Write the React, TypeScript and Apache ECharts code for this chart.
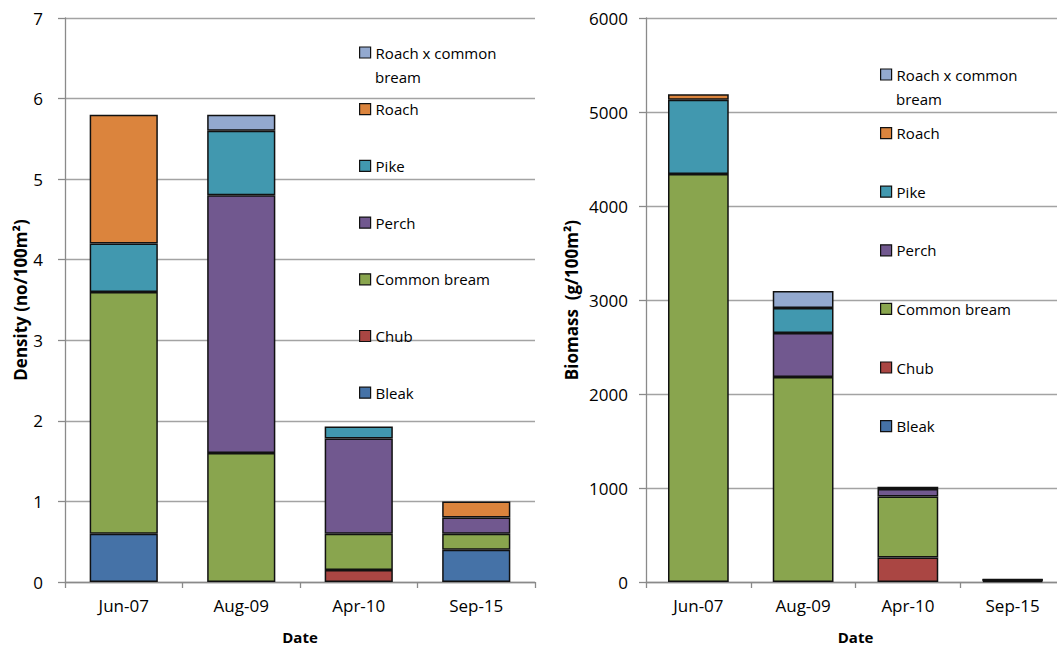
import { useEffect, useRef } from "react";
import * as echarts from "echarts";

// Sampling dates (category axis of both panels)
const dates = ["Jun-07", "Aug-09", "Apr-10", "Sep-15"];

// Species in stacking order (bottom to top)
const species = ["Bleak", "Chub", "Common bream", "Perch", "Pike", "Roach", "Roach x common bream"];
const speciesColors = ["#4572A7", "#AA4643", "#89A54E", "#71588F", "#4198AF", "#DB843D", "#93A9CF"];

// Density (no/100m²) by date; null = species not caught
const densityBleak = [0.6, null, null, 0.4];
const densityChub = [null, null, 0.15, null];
const densityCommonBream = [3.0, 1.6, 0.45, 0.2];
const densityPerch = [null, 3.2, 1.18, 0.2];
const densityPike = [0.6, 0.8, 0.15, null];
const densityRoach = [1.6, null, null, 0.2];
const densityHybrid = [null, 0.2, null, null];

// Biomass (g/100m²) by date
const biomassBleak = [null, null, null, 12];
const biomassChub = [null, null, 260, null];
const biomassCommonBream = [4340, 2180, 650, 8];
const biomassPerch = [null, 470, 80, 5];
const biomassPike = [790, 265, 22, null];
const biomassRoach = [60, null, null, 5];
const biomassHybrid = [null, 180, null, null];

// Axis ranges and ticks
const densityMax = 7;
const densityStep = 1;
const biomassMax = 6000;
const biomassStep = 1000;

const densityValues = [
  densityBleak, densityChub, densityCommonBream, densityPerch,
  densityPike, densityRoach, densityHybrid,
];
const biomassValues = [
  biomassBleak, biomassChub, biomassCommonBream, biomassPerch,
  biomassPike, biomassRoach, biomassHybrid,
];

const FONT = "'Open Sans', 'Noto Sans', sans-serif";
const AXIS_GREY = "#8A8A8A";
const GRID_GREY = "#A3A3A3";

function stackedSeries(values: (number | null)[][], idx: number, stack: string) {
  return species.map((name, i) => ({
    name,
    type: "bar",
    stack,
    xAxisIndex: idx,
    yAxisIndex: idx,
    barWidth: "58%",
    data: values[i],
    itemStyle: { color: speciesColors[i], borderColor: "#111", borderWidth: 1.5 },
    emphasis: { disabled: true },
  }));
}

function xAxis(idx: number) {
  return {
    type: "category",
    gridIndex: idx,
    data: dates,
    axisLine: { lineStyle: { color: AXIS_GREY, width: 1.3 } },
    axisTick: { show: true, length: 6, lineStyle: { color: AXIS_GREY, width: 1.3 } },
    axisLabel: { margin: 15, fontSize: 17, color: "#000", fontFamily: FONT },
    name: "Date",
    nameLocation: "middle",
    nameGap: 47,
    nameTextStyle: { fontSize: 15, fontWeight: "bold", color: "#000", fontFamily: FONT },
  };
}

function yAxis(idx: number, max: number, step: number, name: string, nameGap: number, margin: number) {
  return {
    type: "value",
    gridIndex: idx,
    min: 0,
    max,
    interval: step,
    axisLine: { show: true, lineStyle: { color: AXIS_GREY, width: 1.3 } },
    axisTick: { show: true, length: 7, lineStyle: { color: AXIS_GREY, width: 1.3 } },
    axisLabel: {
      margin,
      fontSize: 17,
      color: "#000",
      fontFamily: FONT,
      formatter: (v: number) => String(v),
    },
    splitLine: { show: true, lineStyle: { color: GRID_GREY, width: 1.3 } },
    name,
    nameLocation: "middle",
    nameRotate: 90,
    nameGap,
    nameTextStyle: { fontSize: 17, fontWeight: "bold", color: "#000", fontFamily: FONT },
  };
}

const legendOrder = [...species].reverse();

function legend(left: number, top: number, gap: number) {
  return {
    orient: "vertical",
    left,
    top,
    padding: 0,
    itemGap: gap,
    itemWidth: 11,
    itemHeight: 11,
    icon: "rect",
    selectedMode: false,
    data: legendOrder,
    formatter: (n: string) => (n === "Roach x common bream" ? "Roach x common" : n),
    itemStyle: { borderColor: "#111", borderWidth: 1.2 },
    textStyle: { fontSize: 15, color: "#000", fontFamily: FONT },
  };
}

export default function App() {
  const ref = useRef<HTMLDivElement>(null);

  useEffect(() => {
    if (!ref.current) return;
    const chart = echarts.init(ref.current, undefined, { renderer: "svg" });
    chart.setOption({
      animation: false,
      backgroundColor: "#fff",
      grid: [
        { left: 65, top: 18, width: 470, height: 564 },
        { left: 646, top: 18, width: 419, height: 564 },
      ],
      xAxis: [xAxis(0), xAxis(1)],
      yAxis: [
        yAxis(0, densityMax, densityStep, "Density (no/100m²)", 35, 22),
        yAxis(1, biomassMax, biomassStep, "Biomass  (g/100m²)", 66, 18),
      ],
      legend: [legend(359, 45, 41.7), legend(880, 67, 43.6)],
      graphic: [
        {
          type: "text",
          x: 375,
          y: 77,
          style: { text: "bream", font: `15px ${FONT}`, fill: "#000", verticalAlign: "middle" },
        },
        {
          type: "text",
          x: 896,
          y: 99,
          style: { text: "bream", font: `15px ${FONT}`, fill: "#000", verticalAlign: "middle" },
        },
      ],
      series: [
        ...stackedSeries(densityValues, 0, "density"),
        ...stackedSeries(biomassValues, 1, "biomass"),
      ],
    });
    return () => chart.dispose();
  }, []);

  // The biomass panel runs slightly past the right edge of the frame and is cut off there.
  return (
    <div
      style={{ position: "fixed", left: 0, top: 0, width: 1057, height: 650, overflow: "hidden", background: "#fff" }}
    >
      <div ref={ref} style={{ width: 1080, height: 650 }} />
    </div>
  );
}
